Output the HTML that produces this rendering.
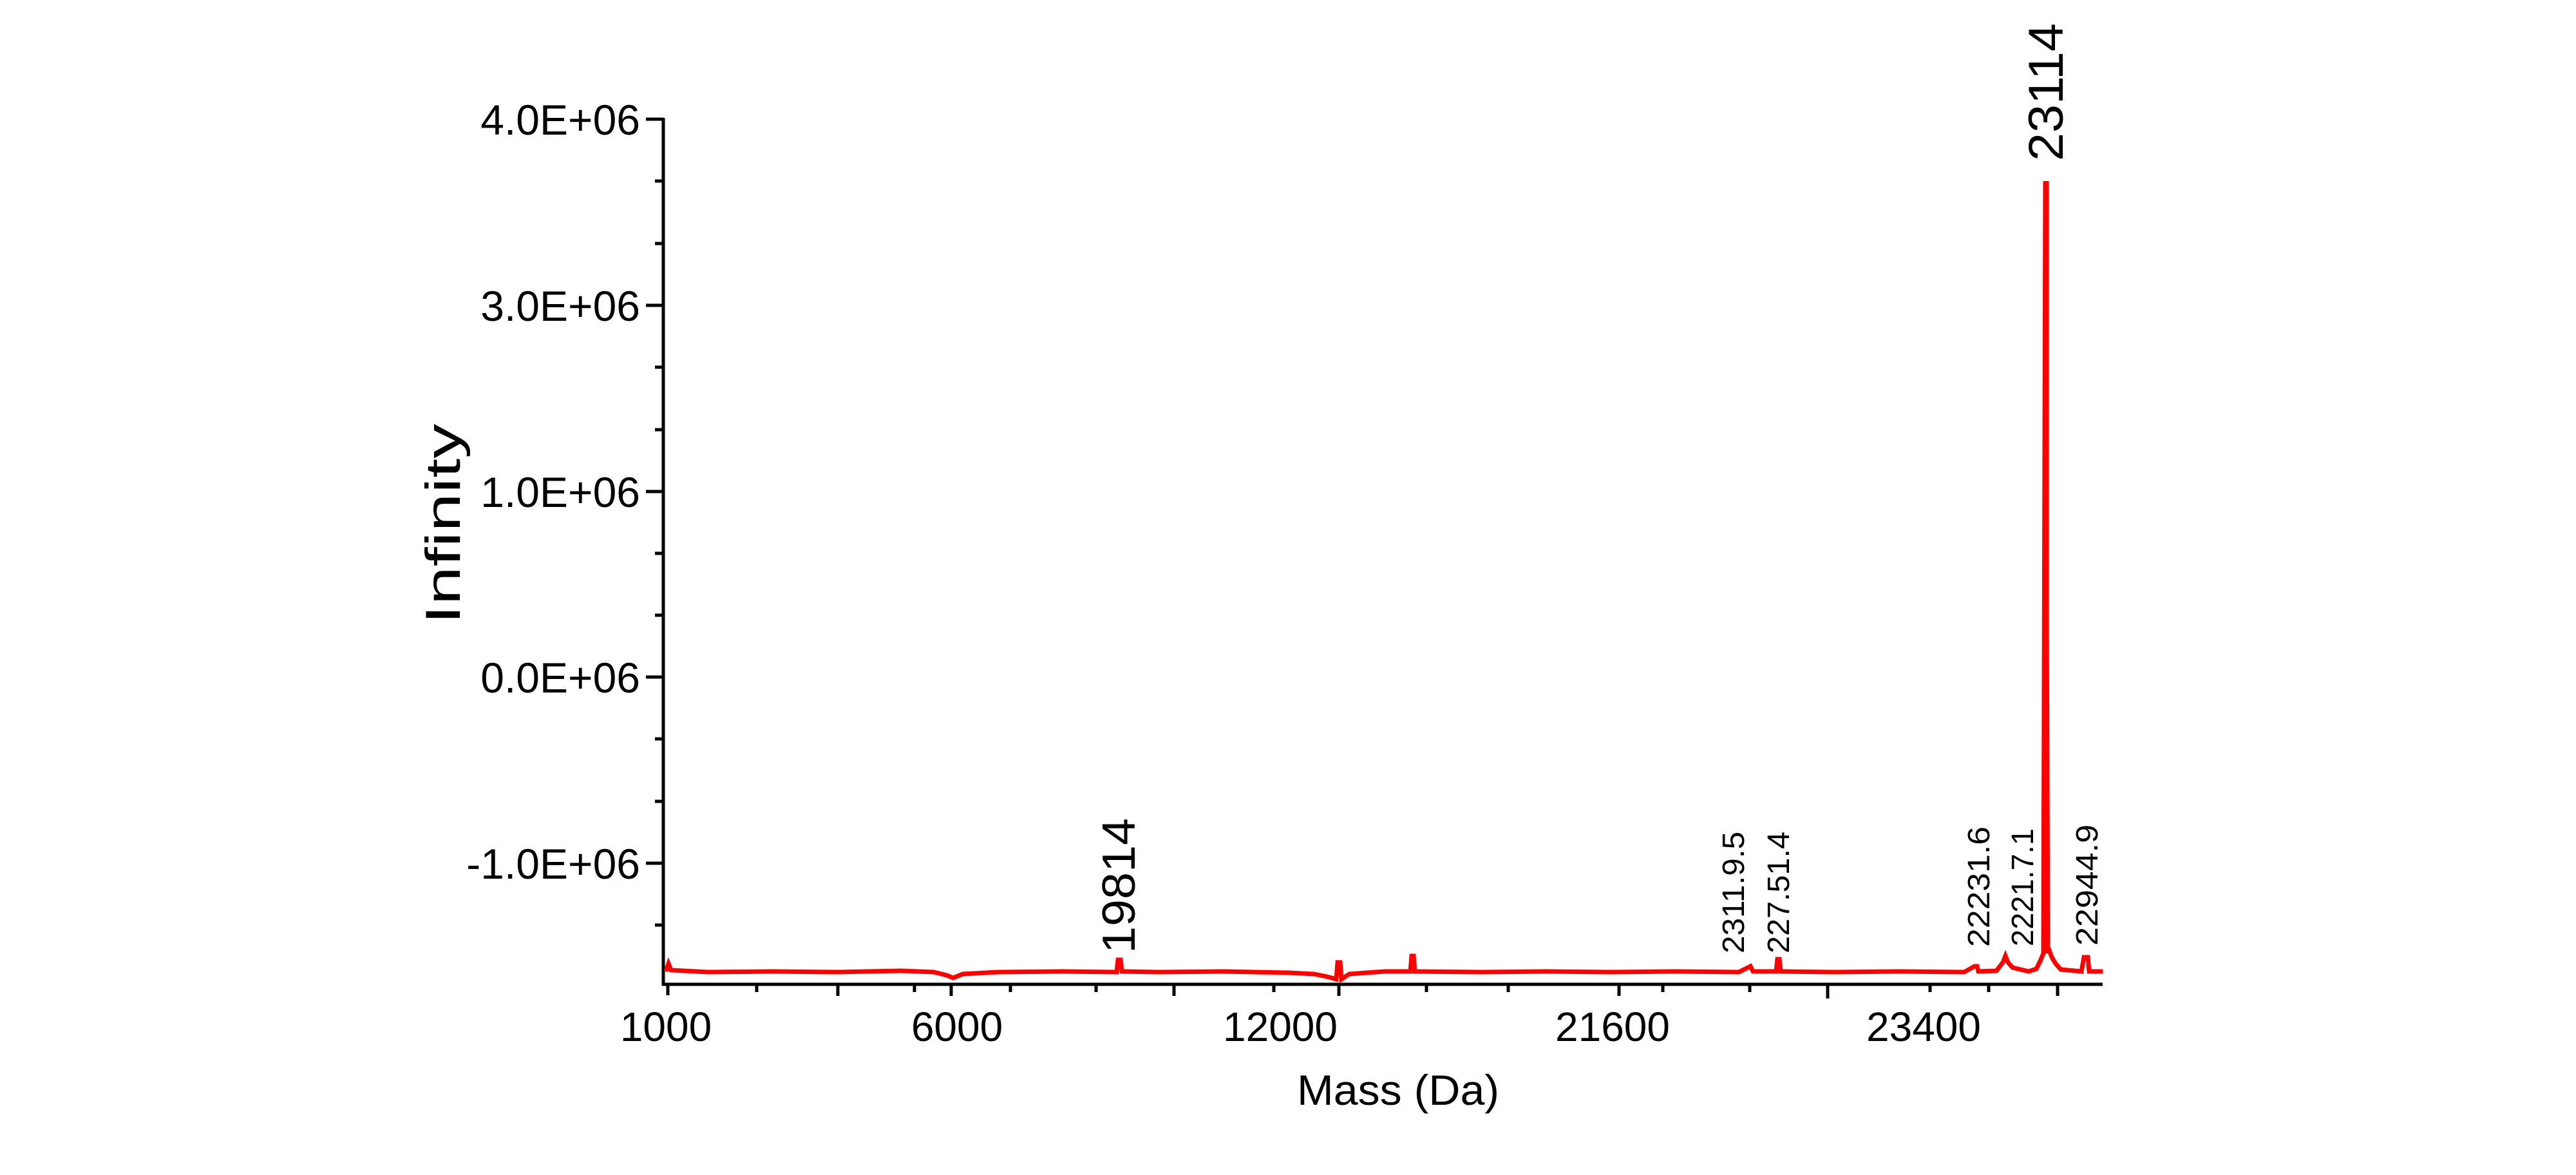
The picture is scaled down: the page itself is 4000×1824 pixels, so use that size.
<!DOCTYPE html>
<html><head><meta charset="utf-8"><style>
html,body{margin:0;padding:0;background:#fff;}
svg{display:block;}
text{font-family:"Liberation Sans",sans-serif;fill:#000;}
</style></head><body>
<svg width="4000" height="1824" viewBox="0 0 4000 1824" xmlns="http://www.w3.org/2000/svg">
<rect width="4000" height="1824" fill="#fff"/>
<g stroke="#000" stroke-width="5" fill="none">
<line x1="1030" y1="183" x2="1030" y2="1530"/>
<line x1="1028" y1="1528" x2="3265" y2="1528"/>
<line x1="1003" y1="185" x2="1030" y2="185"/>
<line x1="1003" y1="474" x2="1030" y2="474"/>
<line x1="1003" y1="763" x2="1030" y2="763"/>
<line x1="1003" y1="1051" x2="1030" y2="1051"/>
<line x1="1003" y1="1340" x2="1030" y2="1340"/>
<line x1="1017" y1="281" x2="1030" y2="281"/>
<line x1="1017" y1="378" x2="1030" y2="378"/>
<line x1="1017" y1="570" x2="1030" y2="570"/>
<line x1="1017" y1="667" x2="1030" y2="667"/>
<line x1="1017" y1="859" x2="1030" y2="859"/>
<line x1="1017" y1="955" x2="1030" y2="955"/>
<line x1="1017" y1="1147" x2="1030" y2="1147"/>
<line x1="1017" y1="1244" x2="1030" y2="1244"/>
<line x1="1017" y1="1436" x2="1030" y2="1436"/>
<line x1="1037" y1="1528" x2="1037" y2="1545"/>
<line x1="1175" y1="1528" x2="1175" y2="1540"/>
<line x1="1301" y1="1528" x2="1301" y2="1546"/>
<line x1="1420" y1="1528" x2="1420" y2="1540"/>
<line x1="1477" y1="1528" x2="1477" y2="1546"/>
<line x1="1569" y1="1528" x2="1569" y2="1540"/>
<line x1="1702" y1="1528" x2="1702" y2="1540"/>
<line x1="1823" y1="1528" x2="1823" y2="1546"/>
<line x1="1978" y1="1528" x2="1978" y2="1540"/>
<line x1="2079" y1="1528" x2="2079" y2="1546"/>
<line x1="2215" y1="1528" x2="2215" y2="1540"/>
<line x1="2342" y1="1528" x2="2342" y2="1540"/>
<line x1="2514" y1="1528" x2="2514" y2="1546"/>
<line x1="2582" y1="1528" x2="2582" y2="1540"/>
<line x1="2717" y1="1528" x2="2717" y2="1540"/>
<line x1="2838" y1="1528" x2="2838" y2="1550"/>
<line x1="2997" y1="1528" x2="2997" y2="1540"/>
<line x1="3088" y1="1528" x2="3088" y2="1540"/>
<line x1="3195" y1="1528" x2="3195" y2="1546"/>
</g>
<g font-size="66" text-anchor="end">
<text x="994" y="209">4.0E+06</text>
<text x="994" y="498">3.0E+06</text>
<text x="994" y="787">1.0E+06</text>
<text x="994" y="1075">0.0E+06</text>
<text x="994" y="1364">-1.0E+06</text>
</g>
<g font-size="64" text-anchor="middle">
<text x="1034" y="1616">1000</text>
<text x="1486" y="1616">6000</text>
<text x="1988" y="1616">12000</text>
<text x="2504" y="1616">21600</text>
<text x="2987" y="1616">23400</text>
</g>
<text x="2171" y="1715" font-size="66" text-anchor="middle" textLength="314" lengthAdjust="spacingAndGlyphs">Mass (Da)</text>
<text transform="translate(714,969) rotate(-90)" font-size="76" textLength="311" lengthAdjust="spacingAndGlyphs">Infinity</text>
<polyline fill="none" stroke="#f00" stroke-width="7" stroke-linejoin="miter" points="
1034,1508 1038,1496 1042,1506 1100,1509 1200,1508 1300,1509 1400,1507 1450,1509 1470,1514 1480,1518 1495,1512 1550,1509 1650,1508 1734,1509 1736,1490 1740,1490 1742,1508 1800,1509 1900,1508 2000,1510 2040,1512 2060,1516 2075,1520 2077,1494 2081,1494 2083,1520 2095,1512 2150,1508 2190,1508 2192,1484 2195,1484 2197,1508 2300,1509 2400,1508 2500,1509 2600,1508 2700,1509 2718,1500 2722,1508 2758,1508 2760,1489 2763,1489 2765,1508 2850,1509 2950,1508 3050,1509 3066,1500 3070,1500 3072,1508 3100,1507 3110,1494 3114,1484 3118,1494 3125,1502 3150,1508 3162,1504 3168,1492 3173,1480 3176,283 3178,960 3180,1470 3186,1486 3192,1496 3200,1505 3232,1508 3236,1486 3242,1486 3244,1508 3265,1508"/>
<line x1="3177" y1="281" x2="3177" y2="1480" stroke="#f00" stroke-width="9"/>
<text transform="translate(1762,1480) rotate(-90)" font-size="72" textLength="210" lengthAdjust="spacingAndGlyphs">19814</text>
<text transform="translate(3203,250) rotate(-90)" font-size="76" textLength="214" lengthAdjust="spacingAndGlyphs">23114</text>
<g font-size="48">
<text transform="translate(2708,1480) rotate(-90)" textLength="189" lengthAdjust="spacingAndGlyphs">2311.9.5</text>
<text transform="translate(2778,1480) rotate(-90)" textLength="189" lengthAdjust="spacingAndGlyphs">227.51.4</text>
<text transform="translate(3089,1470) rotate(-90)" textLength="187" lengthAdjust="spacingAndGlyphs">22231.6</text>
<text transform="translate(3157,1469) rotate(-90)" textLength="183" lengthAdjust="spacingAndGlyphs">2221.7.1</text>
<text transform="translate(3257,1468) rotate(-90)" textLength="188" lengthAdjust="spacingAndGlyphs">22944.9</text>
</g>
</svg>
</body></html>
